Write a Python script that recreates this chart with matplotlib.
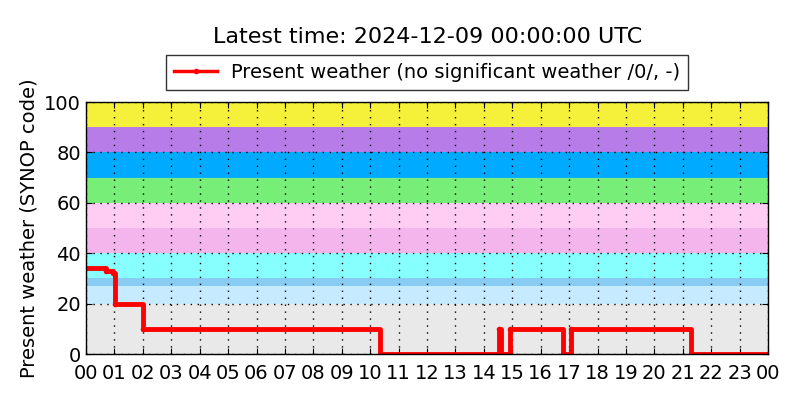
import matplotlib
matplotlib.use("Agg")
import matplotlib.pyplot as plt

# --- data ---
times_h = [0.0, 0.72, 0.95, 1.03, 2.0, 10.33, 14.55, 14.62, 14.93, 16.8, 17.05, 21.28, 24.0]
values = [34, 33, 32, 20, 10, 0, 10, 0, 10, 0, 10, 0, 0]

band_edges = [(0, 20), (20, 27), (27, 30), (30, 40), (40, 50), (50, 60), (60, 70), (70, 80), (80, 90), (90, 100)]
band_colors = ["#e9e9e9", "#c6eaff", "#88ccf4", "#88ffff", "#f4b4ec", "#ffccf4",
               "#77ee77", "#00aaff", "#b77ce8", "#f5f03a"]

xtick_pos = list(range(0, 25))
xtick_labels = ["%02d" % (h % 24) for h in xtick_pos]
ytick_pos = [0, 20, 40, 60, 80, 100]

title = "Latest time: 2024-12-09 00:00:00 UTC"
legend_label = "Present weather (no significant weather /0/, -)"
ylabel = "Present weather (SYNOP code)"

fig = plt.figure(figsize=(8, 4), dpi=100)
ax = fig.add_axes([0.1075, 0.115, 0.8525, 0.63])

for (lo, hi), c in zip(band_edges, band_colors):
    ax.axhspan(lo, hi, color=c, lw=0, zorder=0)

ax.plot(times_h, values, drawstyle="steps-post", color="red", lw=3.5,
        marker=".", markersize=6, label=legend_label, zorder=3)

ax.set_xlim(0, 24)
ax.set_ylim(0, 100)
ax.set_xticks(xtick_pos)
ax.set_xticklabels(xtick_labels)
ax.set_yticks(ytick_pos)
ax.tick_params(direction="in", top=True, right=True, labelsize=14, length=4)
ax.tick_params(axis="x", pad=7)
ax.grid(True, color="black", linestyle=(0, (1, 4)), linewidth=1, zorder=1)
for sp in ax.spines.values():
    sp.set_linewidth(1)
    sp.set_zorder(4)
ax.set_ylabel(ylabel, fontsize=14)

leg = ax.legend(loc="lower center", bbox_to_anchor=(0.5, 1.01), fontsize=14,
                frameon=True, fancybox=False, edgecolor="black", borderpad=0.4,
                handlelength=2.2, handletextpad=0.7)
leg.get_frame().set_linewidth(1)
leg.get_lines()[0].set_linewidth(2.5)

fig.text(0.535, 0.907, title, ha="center", va="center", fontsize=16)

fig.savefig("out.png", dpi=100, facecolor="white")
